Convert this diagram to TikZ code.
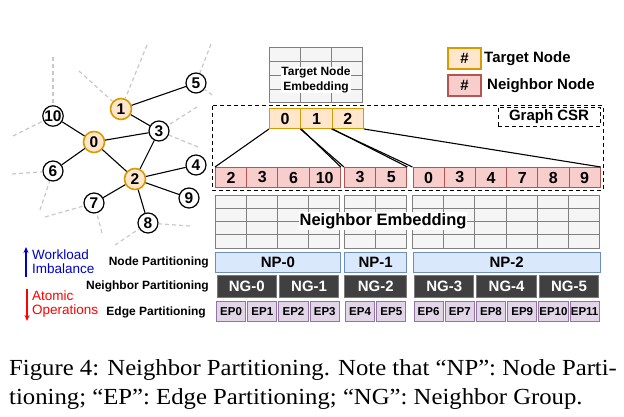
\documentclass[tikz,border=0pt]{standalone}
\usepackage{fontspec}
\setmainfont{Liberation Serif}
\setsansfont{Liberation Sans}
\usetikzlibrary{arrows.meta}
\definecolor{orF}{HTML}{FFE6CC}
\definecolor{orS}{HTML}{D79B00}
\definecolor{rdF}{HTML}{F8CECC}
\definecolor{rdS}{HTML}{B85450}
\definecolor{npF}{HTML}{DAE8FC}
\definecolor{npS}{HTML}{6C8EBF}
\definecolor{epF}{HTML}{E1D5E7}
\definecolor{epS}{HTML}{9673A6}
\definecolor{ngF}{HTML}{404040}
\definecolor{ngS}{HTML}{7A7A7A}
\definecolor{gridS}{HTML}{808080}
\definecolor{gridF}{HTML}{F5F5F5}
\definecolor{dashG}{HTML}{C8C8C8}
\definecolor{wlBlue}{HTML}{0000CC}
\newcommand{\fsz}[1]{\fontsize{#1}{#1}\selectfont}
\begin{document}
\begin{tikzpicture}[x=1pt,y=-1pt,
 gnode/.style={circle,draw=black,line width=1.2pt,fill=white,minimum size=20pt,inner sep=0pt,font=\sffamily\bfseries\fsz{15.5}},
 tnode/.style={gnode,draw=orS,fill=orF,line width=1.6pt,minimum size=21pt},
 edge/.style={line width=1.1pt,black},
 ghost/.style={dashG,line width=1.2pt,dash pattern=on 4pt off 3pt},
 cellbase/.style={anchor=north west,minimum height=20pt,inner sep=0pt,line width=1pt},
 nbox/.style={cellbase,draw=rdS,fill=rdF,minimum width=31.2pt,font=\sffamily\bfseries\fsz{16}},
 tbox/.style={cellbase,draw=orS,fill=orF,minimum width=31.3pt,font=\sffamily\bfseries\fsz{16}},
 gridcell/.style={draw=gridS,fill=gridF,line width=1pt},
 npbox/.style={cellbase,draw=npS,fill=npF,font=\sffamily\bfseries\fsz{15}},
 ngbox/.style={cellbase,draw=ngS,fill=ngF,text=white,minimum height=22pt,font=\sffamily\bfseries\fsz{15}},
 epbox/.style={cellbase,draw=epS,fill=epF,minimum width=29.2pt,font=\sffamily\bfseries\fsz{11.5}},
 rowlab/.style={anchor=base east,inner sep=0pt,font=\sffamily\bfseries\fsz{12}},
 conn/.style={line width=1.1pt,black},
 legbox/.style={draw,line width=1.2pt,minimum width=33pt,minimum height=21pt,inner sep=0pt,font=\sffamily\bfseries\fsz{15}},
 legtxt/.style={anchor=west,inner sep=0pt,font=\sffamily\bfseries\fsz{15}},
 sidetxt/.style={anchor=base west,inner sep=0pt,font=\sffamily\fsz{13.5}},
 captxt/.style={anchor=base west,inner sep=0pt,font=\fsz{23}}
]
\useasboundingbox (0,0) rectangle (624,417);

% ---------- graph ----------
\coordinate (q1a) at (79,71);
\coordinate (q1b) at (147,45);
\coordinate (q10a) at (53,57);
\coordinate (q10b) at (13,136);
\coordinate (q3a) at (197,107);
\coordinate (q3b) at (198,147);
\coordinate (q5a) at (211,44);
\coordinate (q5b) at (212,95);
\coordinate (q6a) at (12,174);
\coordinate (q6b) at (40,210);
\coordinate (q7a) at (45,217);
\coordinate (q7b) at (102,233);
\coordinate (q8a) at (115,245);
\coordinate (q8b) at (190,226);

\node[gnode] (g5) at (196,83) {5};
\node[tnode] (g1) at (121,109) {1};
\node[gnode] (g10) at (53,116) {10};
\node[gnode] (g3) at (159,131) {3};
\node[tnode] (g0) at (94,142) {0};
\node[gnode] (g4) at (196,165) {4};
\node[gnode] (g6) at (53,171) {6};
\node[tnode] (g2) at (135,179) {2};
\node[gnode] (g9) at (189,198) {9};
\node[gnode] (g7) at (94,203) {7};
\node[gnode] (g8) at (148,223) {8};

\foreach \a/\b in {q1a/g1,q1b/g1,q10a/g10,q10b/g10,q3a/g3,q3b/g3,q5a/g5,q5b/g5,q6a/g6,q6b/g6,q7a/g7,q7b/g7,q8a/g8,q8b/g8}
  \draw[ghost] (\a) -- (\b);
\foreach \a/\b in {g1/g5,g1/g3,g0/g10,g0/g3,g0/g6,g0/g2,g2/g3,g2/g4,g2/g9,g2/g7,g2/g8}
  \draw[edge] (\a) -- (\b);

% ---------- legend ----------
\node[legbox,draw=orS,fill=orF] (legT) at (464.5,58.5) {\#};
\node[legtxt] (legTt) at (484,59) {Target Node};
\node[legbox,draw=rdS,fill=rdF] (legN) at (464.5,85.5) {\#};
\node[legtxt] (legNt) at (487,86) {Neighbor Node};

% ---------- target node embedding ----------
\foreach \c in {0,1,2}
  \foreach \r in {0,...,3}
    \draw[gridcell] ({269+31.3*\c},{48+13.75*\r}) rectangle +(31.3,13.75);
\node[fill=white,inner sep=0.6pt,align=center,font=\sffamily\bfseries\fontsize{12}{14.5}\selectfont] (temb) at (316,80) {Target Node\\Embedding};

% ---------- graph CSR ----------
\draw[line width=1pt,dash pattern=on 4pt off 3pt] (212,106) rectangle (603,190);
\node[draw,line width=1pt,dash pattern=on 4pt off 3pt,minimum width=102pt,minimum height=19pt,inner sep=0pt,font=\sffamily\bfseries\fsz{15}] (gcsr) at (549,117) {Graph CSR};

\foreach \lab [count=\i from 0] in {0,1,2}
  \node[tbox] (t\i) at ({269+31.3*\i},108) {\lab};

\foreach \lab [count=\i from 0] in {2,3,6,10}
  \node[nbox] (nA\i) at ({215+31.2*\i},167) {\lab};
\foreach \lab [count=\i from 0] in {3,5}
  \node[nbox] (nB\i) at ({344+31.2*\i},167) {\lab};
\foreach \lab [count=\i from 0] in {0,3,4,7,8,9}
  \node[nbox] (nC\i) at ({412.5+31.2*\i},167) {\lab};

\draw[conn] (t0.south west) -- (nA0.north west);
\draw[conn] (t0.south east) -- (nA3.north east);
\draw[conn] (t1.south west) -- (nB0.north west);
\draw[conn] (t1.south east) -- (nB1.north east);
\draw[conn] (t2.south west) -- (nC0.north west);
\draw[conn] (t2.south east) -- (nC5.north east);

% ---------- neighbor embedding ----------
\foreach \xs/\n in {215/4,344/2,412.5/6}
  \foreach \c in {1,...,\n}
    \foreach \r in {0,...,3}
      \draw[gridcell] ({\xs+31.2*(\c-1)},{195+13.25*\r}) rectangle +(31.2,13.25);
\node[fill=white,inner sep=1pt,font=\sffamily\bfseries\fsz{16.5}] (nemb) at (383,221) {Neighbor Embedding};

% ---------- partition rows ----------
\node[npbox,minimum width=124.8pt] (np0) at (215,252) {NP-0};
\node[npbox,minimum width=62.4pt] (np1) at (344,252) {NP-1};
\node[npbox,minimum width=187.2pt] (np2) at (412.5,252) {NP-2};

\node[ngbox,minimum width=59.4pt] (ng0) at (216.5,275) {NG-0};
\node[ngbox,minimum width=59.4pt] (ng1) at (278.9,275) {NG-1};
\node[ngbox,minimum width=62.4pt] (ng2) at (344,275) {NG-2};
\node[ngbox,minimum width=59.4pt] (ng3) at (414,275) {NG-3};
\node[ngbox,minimum width=59.4pt] (ng4) at (476.4,275) {NG-4};
\node[ngbox,minimum width=59.4pt] (ng5) at (538.8,275) {NG-5};

\foreach \lab [count=\i from 0] in {EP0,EP1,EP2,EP3}
  \node[epbox] (epA\i) at ({216+31.2*\i},301) {\lab};
\foreach \lab [count=\i from 0] in {EP4,EP5}
  \node[epbox] (epB\i) at ({345+31.2*\i},301) {\lab};
\foreach \lab [count=\i from 0] in {EP6,EP7,EP8,EP9,EP10,EP11}
  \node[epbox] (epC\i) at ({413.5+31.2*\i},301) {\lab};

\node[rowlab] (lnp) at (209,265) {Node Partitioning};
\node[rowlab] (lng) at (209,289) {Neighbor Partitioning};
\node[rowlab] (lep) at (206,315) {Edge Partitioning};

% ---------- side notes ----------
\coordinate (wb) at (26,277);
\coordinate (wt) at (26,247);
\coordinate (ab) at (27,321);
\coordinate (at) at (27,289);
\draw[wlBlue,line width=1.3pt,-{Stealth[length=6pt,width=5pt]}] (wb) -- (wt);
\draw[red,line width=1.3pt,-{Stealth[length=6pt,width=5pt]}] (at) -- (ab);
\node[sidetxt,text=wlBlue] (wl1) at (32,259) {Workload};
\node[sidetxt,text=wlBlue] (wl2) at (32,273) {Imbalance};
\node[sidetxt,text=red] (ao1) at (32,300) {Atomic};
\node[sidetxt,text=red] (ao2) at (32,314) {Operations};

% ---------- caption ----------
\node[captxt] (cap1) at (9,375) {\scalebox{1.075}[1]{Figure 4: Neighbor Partitioning. Note that “NP”: Node Parti-}};
\node[captxt] (cap2) at (9,404) {\scalebox{1.075}[1]{tioning; “EP”: Edge Partitioning; “NG”: Neighbor Group.}};
\end{tikzpicture}
\end{document}
